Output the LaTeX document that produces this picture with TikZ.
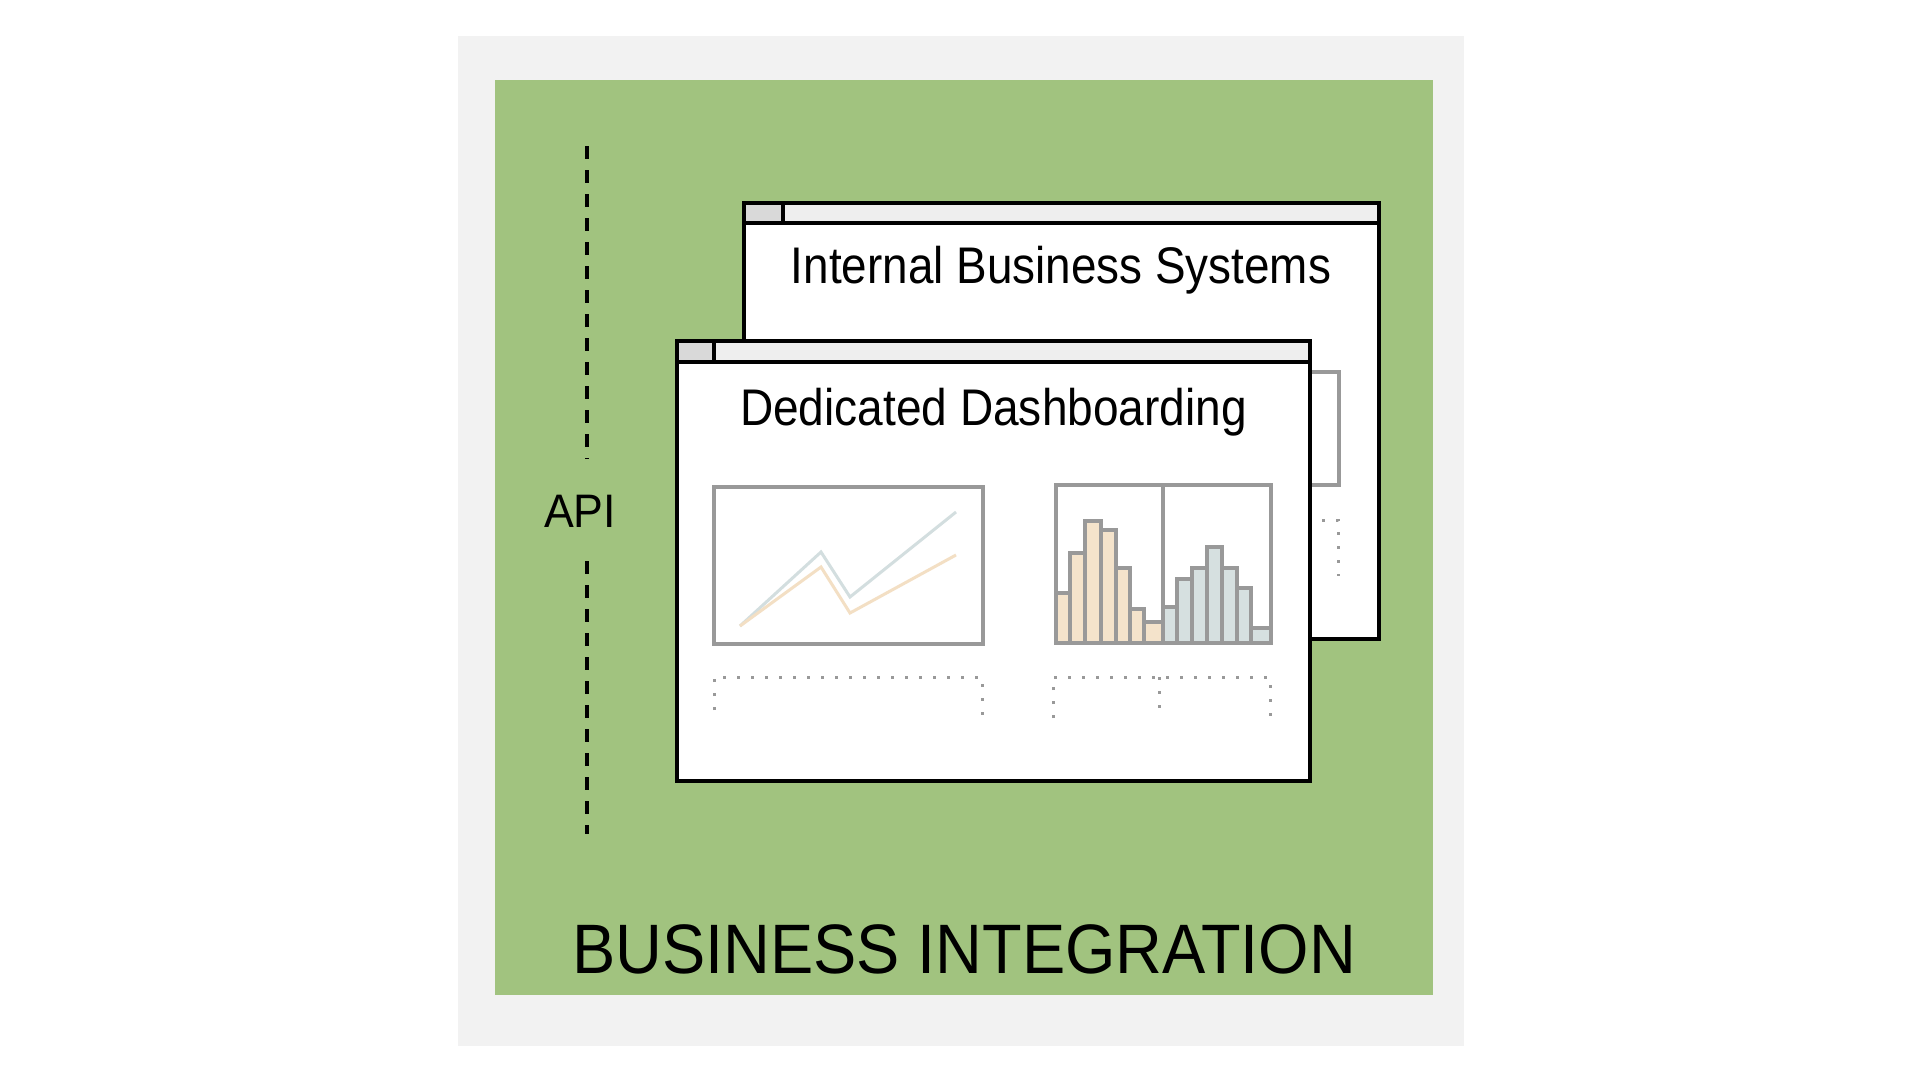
\documentclass[tikz,border=0pt]{standalone}
\usepackage{fontspec}
\setmainfont{Liberation Sans}
\definecolor{panelgray}{HTML}{F2F2F2}
\definecolor{leaf}{HTML}{A1C37F}
\definecolor{barlight}{HTML}{EEEEEE}
\definecolor{barbox}{HTML}{D9D9D9}
\definecolor{chartgray}{HTML}{999999}
\definecolor{sand}{HTML}{F4E3CB}
\definecolor{mist}{HTML}{D6E0E0}
\definecolor{sandline}{HTML}{F3DFC4}
\definecolor{mistline}{HTML}{D3DEDF}
\tikzset{
  winframe/.style={draw=black, line width=4pt, fill=white},
  wintitle/.style={draw=black, line width=4pt, fill=barlight},
  winbox/.style={draw=black, line width=4pt, fill=barbox},
  chartframe/.style={draw=chartgray, line width=3.2pt, fill=white},
  chartbar/.style={draw=chartgray, line width=3.2pt},
  dotline/.style={draw=chartgray, line width=3pt, dash pattern=on 3pt off 11pt},
  apidash/.style={draw=black, line width=3.5pt, dash pattern=on 13pt off 11pt},
  label/.style={inner sep=0pt, anchor=base},
}
\newcommand{\hsq}[2]{\scalebox{#1}[1]{#2}}
\begin{document}
\begin{tikzpicture}[x=1pt, y=-1pt]
\useasboundingbox (0,0) rectangle (1920,1080);
% backdrop and green panel
\fill[panelgray] (458,36) rectangle (1464,1046);
\fill[leaf] (495,80) rectangle (1433,995);

% API divider
\coordinate (apitop) at (587,146);
\coordinate (apiup) at (587,459);
\coordinate (apidown) at (587,561);
\coordinate (apibot) at (587,834);
\draw[apidash] (apitop) -- (apiup);
\draw[apidash] (apidown) -- (apibot);
\node[label, font=\fontsize{47}{50}\selectfont] (api) at (580,527) {\hsq{0.95}{API}};

% back window
\draw[winframe] (744,203) rectangle (1379,639);
\draw[wintitle] (744,203) rectangle (1379,223);
\draw[winbox] (744,203) rectangle (783,223);
\node[label, font=\fontsize{51.5}{54}\selectfont] (backtitle) at (1061,283) {\hsq{0.89}{Internal Business Systems}};
\draw[chartframe] (1100,372) rectangle (1339,485);
\draw[dotline] (1322,520) -- (1338,520) -- (1338,576);

% front window
\draw[winframe] (677,341) rectangle (1310,781);
\draw[wintitle] (677,341) rectangle (1310,362);
\draw[winbox] (677,341) rectangle (714,362);
\node[label, font=\fontsize{51.5}{54}\selectfont] (fronttitle) at (993.5,425) {\hsq{0.894}{Dedicated Dashboarding}};

% line chart
\draw[chartframe] (714,487) rectangle (983,644);
\draw[mistline, line width=3pt] (740,626) -- (821,552) -- (850,597) -- (956,512);
\draw[sandline, line width=3pt] (740,626) -- (821,567) -- (850,613) -- (956,555);
\draw[dotline] (714,710) -- (714,677) -- (982,677) -- (982,718);

% histogram
\draw[chartframe] (1056,485) rectangle (1271,643);
\foreach \xa/\xb/\top in {1056/1070/593, 1070/1085/553, 1085/1101/521, 1101/1116/530, 1116/1130/568, 1130/1144/609, 1144/1163/622}
  \draw[chartbar, fill=sand] (\xa,643) rectangle (\xb,\top);
\foreach \xa/\xb/\top in {1163/1177/607, 1177/1192/579, 1192/1207/568, 1207/1222/547, 1222/1237/568, 1237/1251/588, 1251/1271/628}
  \draw[chartbar, fill=mist] (\xa,643) rectangle (\xb,\top);
\draw[chartbar] (1163,485) -- (1163,643);
\draw[chartbar] (1056,485) rectangle (1271,643);
\draw[dotline] (1053,718) -- (1053,677) -- (1270,677) -- (1270,718);
\draw[dotline] (1159,677) -- (1159,714);

% panel caption
\node[label, font=\fontsize{70}{74}\selectfont] (caption) at (964,973) {\hsq{0.926}{BUSINESS INTEGRATION}};
\end{tikzpicture}
\end{document}
